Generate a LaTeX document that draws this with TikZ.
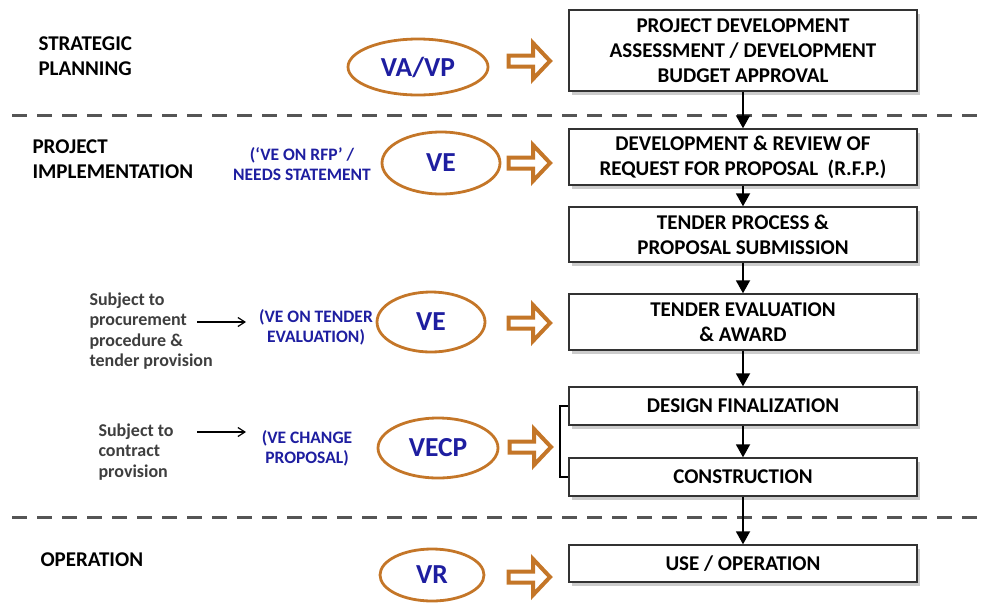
\documentclass[tikz,border=0pt]{standalone}
\usepackage{fontspec}
\setmainfont{Carlito}
\usepackage{xcolor}
\usepackage{tikz}
\usetikzlibrary{arrows.meta,shapes,shadows}
\definecolor{veorange}{RGB}{196,118,40}
\definecolor{veblue}{RGB}{30,30,160}
\definecolor{notegray}{RGB}{62,62,62}
\definecolor{sepgray}{RGB}{85,85,85}

\tikzset{
  stagebox/.style={draw=black!80, line width=1.4pt, fill=white, minimum width=348pt,
    align=center, inner sep=0pt, font=\bfseries\fontsize{21}{25}\selectfont,
    drop shadow={shadow xshift=2.5pt, shadow yshift=-4pt, fill=black!40, opacity=0.5}},
  vering/.style={ellipse, draw=veorange, line width=2.8pt, inner sep=0pt,
    text=veblue, font=\bfseries\fontsize{27.5}{30}\selectfont},
  pics/hollowarrow/.style={code={
    \draw[veorange, line width=4pt, fill=white]
      (-21.5,-5.5) -- (3,-5.5) -- (3,-18) -- (20,0) -- (3,18) -- (3,5.5) -- (-21.5,5.5) -- cycle;}},
  phase/.style={anchor=west, align=left, font=\bfseries\fontsize{21}{25}\selectfont},
  vetag/.style={align=center, text=veblue, font=\bfseries\fontsize{17.5}{20}\selectfont},
  condition/.style={anchor=west, align=left, text=notegray, font=\bfseries\fontsize{18}{20.5}\selectfont},
  flow/.style={line width=1.8pt, -{Triangle[length=13pt,width=14pt]}},
  pointer/.style={line width=1.2pt, -{Straight Barb[length=7pt,width=9pt]}},
  separator/.style={draw=sepgray, line width=3pt, dash pattern=on 15pt off 10pt}
}

\begin{document}
\begin{tikzpicture}[x=1pt,y=-1pt]
    \useasboundingbox (0,0) rectangle (982,603);

    % Phase separators
    \draw[separator] (12,115) -- (977,115);
    \draw[separator] (12,517) -- (977,517);

    % Phase labels
    \node[phase] (strat) at (35,56) {STRATEGIC\\PLANNING};
    \node[phase] (impl) at (29,159) {PROJECT\\IMPLEMENTATION};
    \node[phase] (oper) at (37,560) {OPERATION};

    % Project stages
    \node[stagebox, minimum height=81pt] (budget) at (743,50.5) {PROJECT DEVELOPMENT\\ASSESSMENT / DEVELOPMENT\\BUDGET APPROVAL};
    \node[stagebox, minimum height=56pt] (rfp) at (743,157) {DEVELOPMENT \& REVIEW OF\\REQUEST FOR PROPOSAL~~(R.F.P.)};
    \node[stagebox, minimum height=55pt] (tender) at (743,234.5) {TENDER PROCESS \&\\PROPOSAL SUBMISSION};
    \node[stagebox, minimum height=56pt] (award) at (743,322) {TENDER EVALUATION\\\& AWARD};
    \node[stagebox, minimum height=38pt] (design) at (743,406) {DESIGN FINALIZATION};
    \node[stagebox, minimum height=38pt] (build) at (743,477) {CONSTRUCTION};
    \node[stagebox, minimum height=37pt] (use) at (743,563.5) {USE / OPERATION};

    \draw[flow] (budget.south) -- (rfp.north);
    \draw[flow] (rfp.south) -- (tender.north);
    \draw[flow] (tender.south) -- (award.north);
    \draw[flow] (award.south) -- (design.north);
    \draw[flow] (design.south) -- (build.north);
    \draw[flow] (build.south) -- (use.north);

    % Bracket round design and construction
    \draw[line width=2.2pt] (design.west) -- ++(-8,0) |- (build.west);

    % Value methods
    \node[vering, minimum width=140pt, minimum height=56pt] (vavp) at (418,67) {VA/VP};
    \node[vering, minimum width=118pt, minimum height=62pt] (verfp) at (441,163) {VE};
    \node[vering, minimum width=108pt, minimum height=60pt] (veeval) at (431,322) {VE};
    \node[vering, minimum width=120pt, minimum height=60pt] (vecp) at (438,448) {VECP};
    \node[vering, minimum width=104pt, minimum height=52pt] (vr) at (432,575) {VR};

    \pic (arvavp) at (530,61) {hollowarrow};
    \pic (arverfp) at (530,163) {hollowarrow};
    \pic (arveeval) at (530,323) {hollowarrow};
    \pic (arvecp) at (531,447) {hollowarrow};
    \pic (arvr) at (530,577) {hollowarrow};

    % Notes
    \node[vetag] (tagrfp) at (302,164) {(`VE ON RFP' /\\NEEDS STATEMENT};
    \node[vetag] (tageval) at (316,327) {(VE ON TENDER\\EVALUATION)};
    \node[vetag] (tagcp) at (307,448) {(VE CHANGE\\PROPOSAL)};

    \node[condition] (condproc) at (86,331) {Subject to\\procurement\\procedure \&\\tender provision};
    \node[condition] (condcontr) at (95,452) {Subject to\\contract\\provision};

    \coordinate (procfrom) at (197,322);
    \coordinate (procto) at (246,322);
    \coordinate (contrfrom) at (197,432);
    \coordinate (contrto) at (246,432);
    \draw[pointer] (procfrom) -- (procto);
    \draw[pointer] (contrfrom) -- (contrto);
\end{tikzpicture}
\end{document}
